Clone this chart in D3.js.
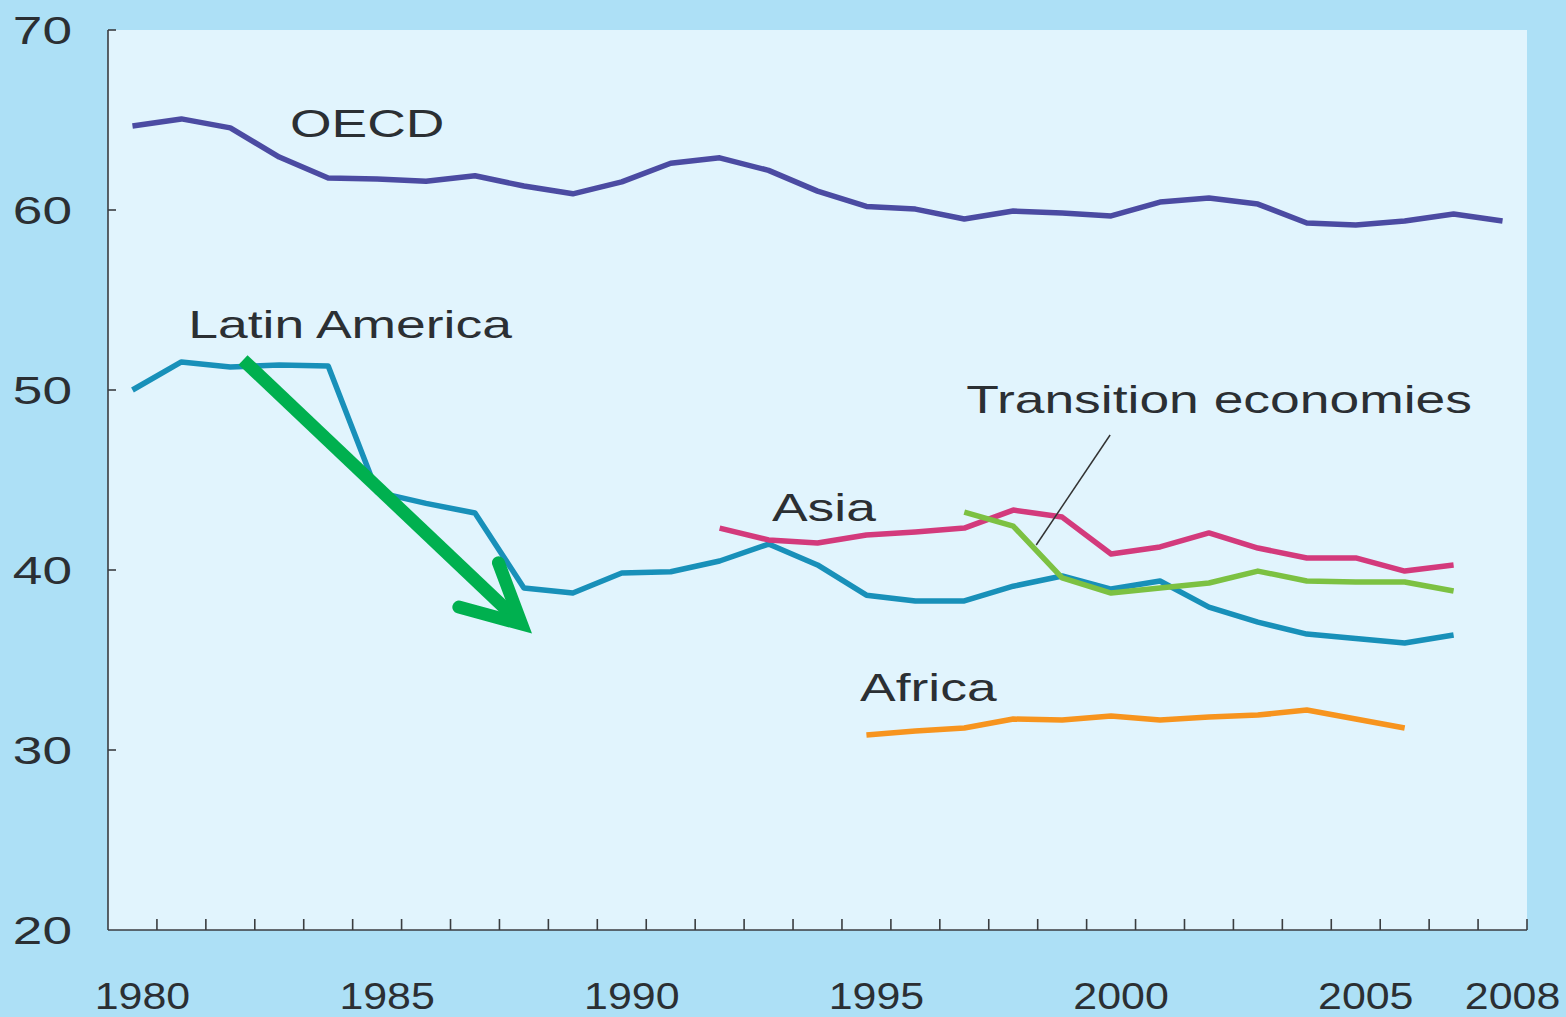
<!DOCTYPE html>
<html>
<head>
<meta charset="utf-8">
<script src="https://cdn.jsdelivr.net/npm/d3@7/dist/d3.min.js"></script>
<style>
  html, body { margin: 0; padding: 0; background: #ade0f6; }
  svg { display: block; }
  text { font-family: "Liberation Sans", Arial, sans-serif; fill: #2b2f33; }
</style>
</head>
<body>
<svg id="chart" width="1566" height="1017"></svg>
<script>
// ---- data ----
const years = [1980,1981,1982,1983,1984,1985,1986,1987,1988,1989,1990,1991,1992,1993,1994,
               1995,1996,1997,1998,1999,2000,2001,2002,2003,2004,2005,2006,2007,2008];
const yTicks = [20, 30, 40, 50, 60, 70];
const xTickLabels = [1980, 1985, 1990, 1995, 2000, 2005, 2008];

const oecd = [64.67,65.06,64.56,62.94,61.78,61.72,61.6,61.9,61.33,60.9,61.56,62.6,62.9,62.2,61.05,
              60.2,60.05,59.5,59.94,59.83,59.67,60.44,60.67,60.33,59.28,59.17,59.39,59.78,59.39];
const latinAmerica = [50.0,51.56,51.28,51.39,51.33,44.33,43.7,43.17,39.0,38.72,39.83,39.9,40.5,41.44,40.28,
              38.6,38.28,38.28,39.1,39.67,38.94,39.39,37.94,37.1,36.44,36.2,35.94,36.39,null];
const asia = [null,null,null,null,null,null,null,null,null,null,null,null,42.33,41.67,41.5,
              41.94,42.11,42.33,43.33,42.94,40.89,41.28,42.06,41.22,40.67,40.67,39.94,40.28,null];
const transition = [null,null,null,null,null,null,null,null,null,null,null,null,null,null,null,
              null,null,43.22,42.44,39.56,38.72,39.0,39.28,39.94,39.39,39.33,39.33,38.83,null];
const africa = [null,null,null,null,null,null,null,null,null,null,null,null,null,null,null,
              30.83,31.06,31.22,31.72,31.67,31.89,31.67,31.83,31.94,32.22,31.72,31.22,null,null];

const seriesNames = ["OECD", "Latin America", "Asia", "Transition economies", "Africa"];
const seriesValues = [oecd, latinAmerica, asia, transition, africa];
const seriesColors = ["#4b4ba2", "#1890b9", "#d33a7c", "#7cc142", "#f7941e"];

// label anchors (year, value) for series names
const labelYears  = [1983.22, 1981.14, 1993.07, 1997.04, 1994.87];
const labelValues = [64.06, 52.89, 42.72, 48.72, 32.72];

// green arrow annotation (year, value)
const arrowStart = [1982.26, 51.67];
const arrowTip   = [1987.95, 37.0];
const arrowArm1  = [1986.67, 37.94];
const arrowArm2  = [1987.48, 40.40];
// leader line for "Transition economies"
const leaderFrom = [1999.98, 47.5];
const leaderTo   = [1998.47, 41.39];

// ---- layout ----
const svg = d3.select("#chart");
const L = 108, R = 1527, T = 30, B = 930;

const x = d3.scaleBand().domain(years).range([L, R]).paddingInner(0).paddingOuter(0);
const bw = x.bandwidth();
const xc = d => x(d) + bw / 2;
const xl = d3.scaleLinear().domain([1980, 2008]).range([xc(1980), xc(2008)]);
const y = d3.scaleLinear().domain([20, 70]).range([B, T]);

// plot background
svg.append("rect").attr("x", L).attr("y", T).attr("width", R - L).attr("height", B - T)
  .attr("fill", "#e1f4fd");

// axes
const axisColor = "#3a3d40";
svg.append("line").attr("x1", L).attr("x2", L).attr("y1", T).attr("y2", B)
  .attr("stroke", axisColor).attr("stroke-width", 1.6);
svg.append("line").attr("x1", L).attr("x2", R).attr("y1", B).attr("y2", B)
  .attr("stroke", axisColor).attr("stroke-width", 1.6);

// y ticks (pointing inward)
svg.selectAll(".ytick").data(yTicks.filter(v => v > 20)).enter().append("line")
  .attr("x1", L).attr("x2", L + 8).attr("y1", d => y(d)).attr("y2", d => y(d))
  .attr("stroke", axisColor).attr("stroke-width", 1.6);

// x ticks at category boundaries
const boundaries = years.slice(1).map(d => x(d)).concat([R]);
svg.selectAll(".xtick").data(boundaries).enter().append("line")
  .attr("x1", d => d).attr("x2", d => d).attr("y1", B).attr("y2", B - 11)
  .attr("stroke", axisColor).attr("stroke-width", 1.6);

// y labels
svg.selectAll(".ylab").data(yTicks).enter().append("g")
  .attr("transform", d => `translate(72,${y(d) + 13.5}) scale(1.4,1)`)
  .append("text").attr("text-anchor", "end").attr("font-size", 38).text(d => d);

// x labels
svg.selectAll(".xlab").data(xTickLabels).enter().append("g")
  .attr("transform", d => `translate(${xc(d) + 10},1009) scale(1.16,1)`)
  .append("text").attr("text-anchor", "middle").attr("font-size", 37).text(d => d);

// lines
const line = d3.line().defined(d => d.v != null).x(d => xc(d.year)).y(d => y(d.v));
seriesValues.forEach((vals, i) => {
  const pts = years.map((yr, j) => ({ year: yr, v: vals[j] }));
  svg.append("path").datum(pts).attr("d", line)
    .attr("fill", "none").attr("stroke", seriesColors[i]).attr("stroke-width", 5.5)
    .attr("stroke-linejoin", "round").attr("stroke-linecap", "butt");
});

// leader line
svg.append("line")
  .attr("x1", xl(leaderFrom[0])).attr("y1", y(leaderFrom[1]))
  .attr("x2", xl(leaderTo[0])).attr("y2", y(leaderTo[1]))
  .attr("stroke", "#333").attr("stroke-width", 1.5);

// series labels
seriesNames.forEach((name, i) => {
  svg.append("g")
    .attr("transform", `translate(${xl(labelYears[i])},${y(labelValues[i])}) scale(1.37,1)`)
    .append("text").attr("font-size", 39).text(name);
});

// green arrow
const green = "#00b04f";
svg.append("line")
  .attr("x1", xl(arrowStart[0])).attr("y1", y(arrowStart[1]))
  .attr("x2", xl(arrowTip[0]) - 4).attr("y2", y(arrowTip[1]) - 4)
  .attr("stroke", green).attr("stroke-width", 13).attr("stroke-linecap", "butt");
svg.append("path")
  .attr("d", d3.line()([[xl(arrowArm1[0]), y(arrowArm1[1])],
                        [xl(arrowTip[0]), y(arrowTip[1])],
                        [xl(arrowArm2[0]), y(arrowArm2[1])]]))
  .attr("fill", "none").attr("stroke", green).attr("stroke-width", 13)
  .attr("stroke-linecap", "round").attr("stroke-linejoin", "miter").attr("stroke-miterlimit", 10);
</script>
</body>
</html>
